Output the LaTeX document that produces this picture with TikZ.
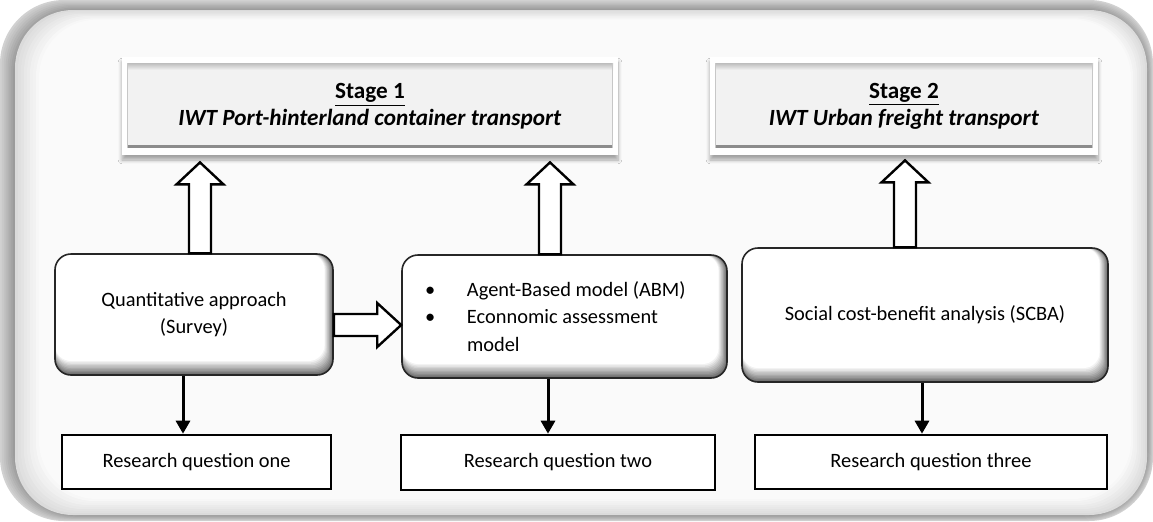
\documentclass[tikz,border=0pt]{standalone}
\usepackage{fontspec}
\setmainfont{Carlito}
\usetikzlibrary{calc,arrows.meta,shadows.blur}

% hollow block arrows, drawn between two named points
\newcommand\hollowup[2]{%
  \draw[hollow] ($(#1)+(-11,0)$) -- ($(#2)+(-11,22)$) -- ($(#2)+(-23.5,22)$) -- (#2)
    -- ($(#2)+(23.5,22)$) -- ($(#2)+(11,22)$) -- ($(#1)+(11,0)$) -- cycle;}
\newcommand\hollowright[2]{%
  \draw[hollow] ($(#1)+(0,-11)$) -- ($(#2)+(-24,-11)$) -- ($(#2)+(-24,-22)$) -- (#2)
    -- ($(#2)+(-24,22)$) -- ($(#2)+(-24,11)$) -- ($(#1)+(0,11)$) -- cycle;}
% one bulleted line
\newcommand\bulletline[1]{\makebox[21pt][l]{\textbullet}#1}
% keep the font's own word spacing inside aligned nodes
\newcommand\naturalspaces{\spaceskip=0pt\xspaceskip=0pt\relax}

\begin{document}
\begin{tikzpicture}[x=0.5pt,y=-0.5pt,
  bodyfont/.style={font=\fontsize{10.2}{13.7}\selectfont},
  rbox/.style={draw=black!85, line width=0.8pt, rounded corners=8pt, fill=white,
    align=center, inner sep=0pt, bodyfont,
    path picture={
      \foreach \i [evaluate=\i as \c using {int(58-5.8*\i)}] in {0,...,10}
        \fill[black!\c, rounded corners=8pt]
          ([yshift=\i*0.7pt]path picture bounding box.south west) rectangle
          ([xshift=-\i*0.42pt]path picture bounding box.north east);
    }},
  qbox/.style={draw=black, line width=1.3pt, fill=white, inner sep=0pt, bodyfont},
  stagebox/.style={fill=white, inner sep=0pt, align=center,
    font=\fontsize{11.6}{13.6}\selectfont\bfseries,
    blur shadow={shadow xshift=0pt, shadow yshift=-2.5pt, shadow blur steps=6, shadow opacity=35},
    path picture={
      \fill[black!5] ([shift={(2.5pt,3.5pt)}]path picture bounding box.south west) rectangle
                     ([shift={(-2.5pt,-3pt)}]path picture bounding box.north east);
      \shade[top color=black!26, bottom color=black!5]
        ([shift={(2.5pt,-6.5pt)}]path picture bounding box.north west) rectangle
        ([shift={(-2.5pt,-3pt)}]path picture bounding box.north east);
      \fill[black!45] ([shift={(2.5pt,3.5pt)}]path picture bounding box.south west) rectangle
                      ([shift={(-2.5pt,5.2pt)}]path picture bounding box.south east);
      \draw[black!22, line width=0.6pt]
        ([shift={(2.8pt,3.5pt)}]path picture bounding box.south west) --
        ([shift={(2.8pt,-3pt)}]path picture bounding box.north west);
      \draw[black!22, line width=0.6pt]
        ([shift={(-2.8pt,3.5pt)}]path picture bounding box.south east) --
        ([shift={(-2.8pt,-3pt)}]path picture bounding box.north east);
    }},
  hollow/.style={draw=black, line width=1.2pt, fill=white, line join=miter},
  down/.style={-{Triangle[length=6.5pt,width=7pt]}, line width=1.5pt, black},
]
\useasboundingbox (0,0) rectangle (1153,521);

% outer frame with its soft grey rim and inner glow
\fill[white] (0,0) rectangle (1153,521);
\foreach \i [evaluate=\i as \c using {int(18+3*\i)}] in {0,...,8}
  \fill[black!\c, rounded corners=32pt] ({15*\i/8},{10*\i/8}) rectangle ({1153-6*\i/8},{521-6*\i/8});
\foreach \i [evaluate=\i as \c using {int(14-1.5*\i)}] in {0,...,8}
  \fill[black!\c, rounded corners=29pt] ({15+3*\i},{10+1.2*\i}) rectangle ({1147-2*\i},{515-2*\i});

% stage headers
\node[stagebox, minimum width=248pt, minimum height=49pt] (s1) at (370,106)
  {\naturalspaces\underline{Stage 1}\\\textit{IWT Port-hinterland container transport}};
\node[stagebox, minimum width=194pt, minimum height=49pt] (s2) at (904,106)
  {\naturalspaces\underline{Stage 2}\\\textit{IWT Urban freight transport}};

% methods
\node[rbox, minimum width=139pt, minimum height=60.5pt] (qa) at (194,314.5)
  {\naturalspaces Quantitative approach\\(Survey)};
\node[rbox, minimum width=162.5pt, minimum height=61.5pt, text width=139.5pt, align=left] (abm) at (564.5,316.5)
  {\naturalspaces
   \bulletline{Agent-Based model (ABM)}\\
   \bulletline{Econnomic assessment}\\
   \hspace*{21pt}model};
\node[rbox, minimum width=183pt, minimum height=67pt] (scba) at (925,315)
  {\naturalspaces Social cost-benefit analysis (SCBA)};

% research questions
\node[qbox, minimum width=134.5pt, minimum height=27pt] (rq1) at (196.5,462) {Research question one};
\node[qbox, minimum width=157pt, minimum height=27.5pt] (rq2) at (558,462.5) {Research question two};
\node[qbox, minimum width=176pt, minimum height=27pt] (rq3) at (931,462) {Research question three};

% arrow positions
\coordinate (u1x) at (200,0);
\coordinate (u2x) at (550,0);
\coordinate (u3x) at (905,0);
\coordinate (d1x) at (183,0);
\coordinate (d2x) at (548,0);
\coordinate (d3x) at (922,0);
\coordinate (hy) at (0,325);

\coordinate (u1b) at (qa.north -| u1x);
\coordinate (u1t) at ($(s1.south -| u1x)+(0,7)$);
\coordinate (u2b) at (abm.north -| u2x);
\coordinate (u2t) at ($(s1.south -| u2x)+(0,7)$);
\coordinate (u3b) at (scba.north -| u3x);
\coordinate (u3t) at ($(s2.south -| u3x)+(0,5)$);
\coordinate (h1b) at (qa.east |- hy);
\coordinate (h1t) at (abm.west |- hy);

\hollowup{u1b}{u1t}
\hollowup{u2b}{u2t}
\hollowup{u3b}{u3t}
\hollowright{h1b}{h1t}

\draw[down] (qa.south -| d1x) -- (rq1.north -| d1x);
\draw[down] (abm.south -| d2x) -- (rq2.north -| d2x);
\draw[down] (scba.south -| d3x) -- (rq3.north -| d3x);
\end{tikzpicture}
\end{document}
